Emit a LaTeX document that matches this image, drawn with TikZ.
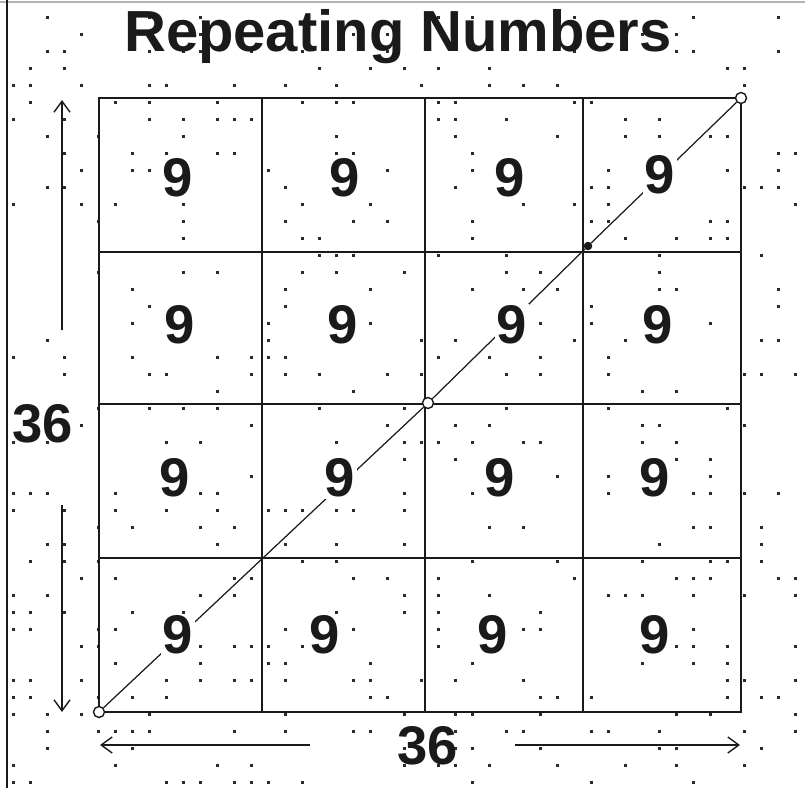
\documentclass[tikz,border=0pt]{standalone}
\usepackage{fontspec}
\setmainfont{Liberation Sans}
\usetikzlibrary{arrows.meta}
\definecolor{inkdark}{HTML}{1A1A1A}
\definecolor{paperdot}{HTML}{2A2A2A}

\begin{document}
\begin{tikzpicture}[
  x=0.02cm, y=-0.02cm,
  grid/.style={draw=inkdark, line width=1.5pt},
  diag/.style={draw=inkdark, line width=0.7pt},
  num/.style={font=\fontsize{31}{34}\bfseries\selectfont, text=inkdark, inner sep=0pt},
  dim/.style={-{Straight Barb[length=2.2mm,width=3.2mm]}, line width=0.8pt, draw=inkdark},
  pt/.style={circle, draw=inkdark, fill=white, line width=0.8pt, inner sep=0pt, minimum size=2.2mm}
]
\useasboundingbox (0,0) rectangle (805,788);

% Graph paper dots of the scan
\pgfmathsetseed{11}
\foreach \i in {0,...,46}{
  \foreach \j in {0,...,45}{
    \pgfmathtruncatemacro\keep{rnd<0.22}
    \ifnum\keep=1
      \fill[paperdot] (12+17*\i,16+17*\j) rectangle +(2.6,2.6);
    \fi
  }
}

% Page edges
\draw[gray!60, line width=1pt] (0,2) -- (805,2);
\draw[inkdark, line width=1.3pt] (7,0) -- (7,788);

% Title
\node[font=\fontsize{33}{38}\bfseries\selectfont, text=inkdark, anchor=base] (title) at (398,51) {Repeating Numbers};

% Corner and mid points of the square
\coordinate (bl) at (99,712);
\coordinate (tr) at (741,98);
\coordinate (tl) at (99,98);
\coordinate (br) at (741,712);

% The 4 x 4 grid
\draw[grid] (tl) rectangle (br);
\foreach \gx in {262,425,583}
  \draw[grid] (\gx,98) -- (\gx,712);
\foreach \gy in {252,404,558}
  \draw[grid] (99,\gy) -- (741,\gy);

% Diagonal
\node[pt] (pa) at (bl) {};
\node[pt] (pb) at (428,403) {};
\node[pt, fill=inkdark, minimum size=1.4mm] (pc) at (588,246) {};
\node[pt] (pd) at (tr) {};
\draw[diag] (pa) -- (pb) -- (pc) -- (pd);

% Nines
\foreach \px/\py [count=\k] in {178/178,345/178,510/178,660/175,
                                180/325,343/325,512/325,658/325,
                                175/478,340/478,500/478,655/478,
                                178/635,325/635,493/635,655/635}
  \node[num, fill=white, inner sep=1pt] (nine\k) at (\px,\py) {9};

% Side length labels
\node[num, anchor=base] (sidev) at (43,442) {36};
\node[num, anchor=base] (sideh) at (428,764) {36};

\coordinate (vtop) at (62,100);
\coordinate (vbot) at (62,712);
\coordinate (hleft) at (100,745);
\coordinate (hright) at (740,745);
\coordinate (vup) at (62,330);
\coordinate (vlow) at (62,505);
\coordinate (hl) at (310,745);
\coordinate (hr) at (515,745);

\draw[dim] (vup) -- (vtop);
\draw[dim] (vlow) -- (vbot);
\draw[dim] (hl) -- (hleft);
\draw[dim] (hr) -- (hright);

\end{tikzpicture}
\end{document}
